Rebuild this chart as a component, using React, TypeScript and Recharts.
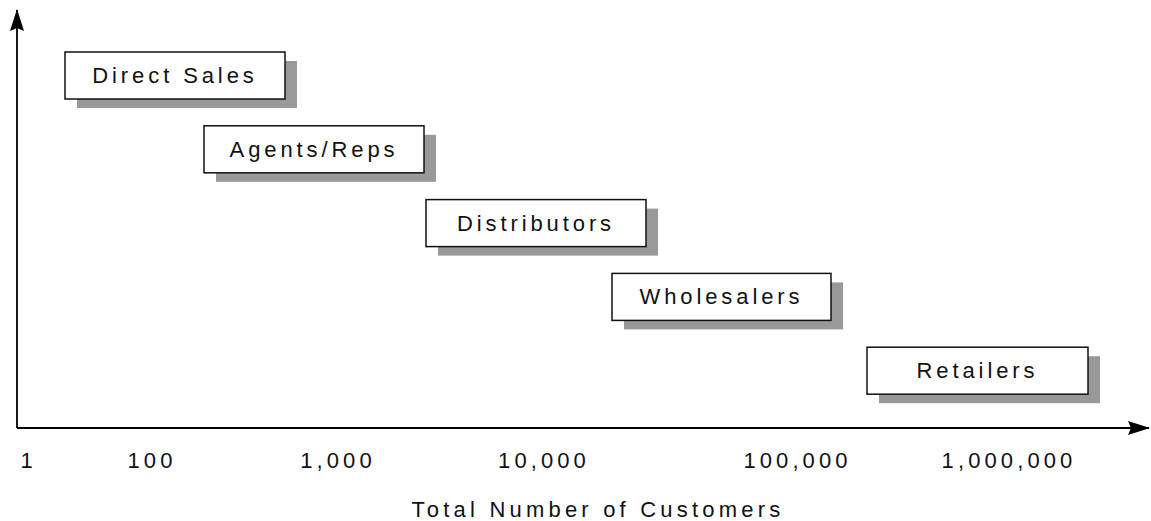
import { BarChart, Bar, XAxis, YAxis, Label } from 'recharts'

// Channel boxes, positions in chart units along the (schematic) customer axis
const channels = ['Direct Sales', 'Agents/Reps', 'Distributors', 'Wholesalers', 'Retailers']
const spanStart = [4.8, 18.7, 40.9, 59.5, 85.0]
const spanEnd = [26.8, 40.7, 62.9, 81.4, 107.1]

// Tick marks on the customer axis (not a true log scale in the original)
const tickPositions = [1.17, 13.5, 32.1, 52.7, 78.05, 99.2]
const tickLabels = ['1', '100', '1,000', '10,000', '100,000', '1,000,000']

const axisTitle = 'Total Number of Customers'

const FONT = '"Liberation Sans", Arial, sans-serif'

const chartData = channels.map((channel, i) => ({
  channel,
  span: [spanStart[i], spanEnd[i]],
}))

const ChannelBox = (props: any) => {
  const { x, y, width, height, payload } = props
  if (width == null || height == null) return null
  return (
    <g>
      <rect x={x + 12} y={y + 9} width={width} height={height} fill="#999999" />
      <rect x={x} y={y} width={width} height={height} fill="#ffffff" stroke="#111111" strokeWidth={1.5} />
      <text
        x={x + width / 2}
        y={y + height / 2}
        textAnchor="middle"
        dominantBaseline="central"
        fontFamily={FONT}
        fontSize={22}
        fill="#111111"
        style={{ letterSpacing: '3.9px' }}
      >
        {payload.channel}
      </text>
    </g>
  )
}

export default function App() {
  return (
    <div style={{ position: 'absolute', left: 0, top: 0, background: '#fff' }}>
      <BarChart
        width={1151}
        height={521}
        data={chartData}
        layout="vertical"
        margin={{ top: 10, right: 2, bottom: 0, left: 16 }}
      >
        <defs>
          <marker
            id="axis-arrow"
            viewBox="0 0 22 14"
            refX={21}
            refY={7}
            markerWidth={22}
            markerHeight={14}
            markerUnits="userSpaceOnUse"
            orient="auto-start-reverse"
          >
            <path d="M0,0 L22,7 L0,14 L3,7 z" fill="#000" />
          </marker>
        </defs>
        <XAxis
          type="number"
          domain={[0, 113.2]}
          ticks={tickPositions}
          interval={0}
          height={93}
          tickLine={false}
          tickSize={6}
          tickMargin={18}
          axisLine={{ stroke: '#000', strokeWidth: 1.8, markerEnd: 'url(#axis-arrow)' }}
          tick={{ fill: '#111', fontFamily: FONT, fontSize: 22, style: { letterSpacing: '4.1px' } } as any}
          tickFormatter={(v: number) => tickLabels[tickPositions.indexOf(v)] ?? ''}
        >
          <Label
            value={axisTitle}
            position="insideBottom"
            offset={4}
            dx={15}
            fill="#111"
            fontFamily={FONT}
            fontSize={22}
            style={{ letterSpacing: '4.2px' }}
          />
        </XAxis>
        <YAxis
          type="category"
          dataKey="channel"
          width={1}
          tick={false}
          tickLine={false}
          padding={{ top: 29, bottom: 20 }}
          axisLine={{ stroke: '#000', strokeWidth: 1.8, markerStart: 'url(#axis-arrow)' }}
        />
        <Bar dataKey="span" barSize={47} isAnimationActive={false} shape={(p: any) => <ChannelBox {...p} />} />
      </BarChart>
    </div>
  )
}
